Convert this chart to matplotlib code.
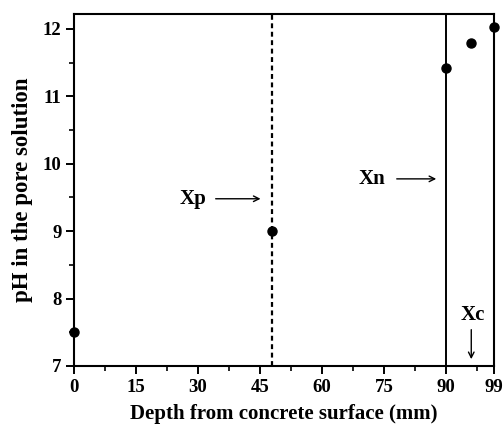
import numpy as np
import matplotlib.pyplot as plt
from matplotlib.ticker import MultipleLocator

plt.rcParams['font.family'] = ['Liberation Serif', 'DejaVu Serif']
plt.rcParams['font.weight'] = 'bold'

# data
depth = [0, 48, 90, 96, 101.6]
ph = [7.5, 9.0, 11.42, 11.79, 12.02]
xp = 48
xn = 90
xmax = 101.6
xtick_pos = [0, 15, 30, 45, 60, 75, 90, 101.6]
xtick_lab = ['0', '15', '30', '45', '60', '75', '90', '99']
ytick_pos = [7, 8, 9, 10, 11, 12]

fig = plt.figure(figsize=(5.04, 4.29), dpi=100)
ax = fig.add_axes([74/504, 1 - 366/429, 420/504, 352/429])

ax.plot(depth, ph, 'o', color='black', markersize=6.5, clip_on=False, zorder=5)
ax.axvline(xp, color='black', linestyle=(0, (2.2, 1.6)), linewidth=1.6)
ax.axvline(xn, color='black', linewidth=1.4)

ax.set_xlim(0, xmax)
ax.set_ylim(7, 12.22)
ax.set_xticks(xtick_pos)
ax.set_xticklabels(xtick_lab)
ax.set_yticks(ytick_pos)
ax.xaxis.set_minor_locator(MultipleLocator(7.5))
ax.yaxis.set_minor_locator(MultipleLocator(0.5))
ax.tick_params(which='major', direction='out', length=6, width=1.4, labelsize=13.5, pad=3)
ax.tick_params(which='minor', direction='out', length=3.5, width=1.2)
for s in ax.spines.values():
    s.set_linewidth(1.5)

ax.set_xlabel('Depth from concrete surface (mm)', fontsize=15, fontweight='bold', labelpad=6)
ax.set_ylabel('pH in the pore solution', fontsize=16.5, fontweight='bold', labelpad=7)

# annotations
ax.annotate('', xy=(45.8, 9.48), xytext=(33.6, 9.48),
            arrowprops=dict(arrowstyle='->', color='black', lw=1.0))
ax.text(28.8, 9.48, 'Xp', fontsize=15, fontweight='bold', ha='center', va='center')
ax.annotate('', xy=(88.3, 9.775), xytext=(77.4, 9.775),
            arrowprops=dict(arrowstyle='->', color='black', lw=1.0))
ax.text(72.1, 9.775, 'Xn', fontsize=15, fontweight='bold', ha='center', va='center')
ax.annotate('', xy=(96.1, 7.06), xytext=(96.1, 7.58),
            arrowprops=dict(arrowstyle='->', color='black', lw=1.0))
ax.text(96.5, 7.75, 'Xc', fontsize=15, fontweight='bold', ha='center', va='center')

fig.savefig('out.png', dpi=100)
